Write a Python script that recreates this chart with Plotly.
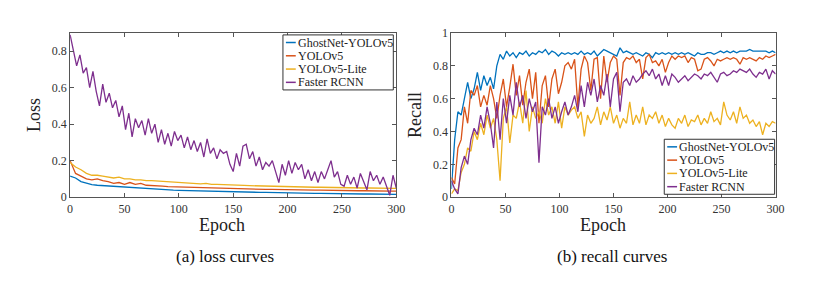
import plotly.graph_objects as go

# ---------------- data ----------------
names = ["GhostNet-YOLOv5", "YOLOv5", "YOLOv5-Lite", "Faster RCNN"]
colors = ["#0072BD", "#D95319", "#EDB120", "#7E2F8E"]

epochs3 = list(range(0, 301, 3))
epochs5 = list(range(0, 301, 5))

loss_ghost = [0.115, 0.105, 0.085, 0.075, 0.068, 0.065, 0.063, 0.060, 0.057, 0.055,
              0.053, 0.055, 0.050, 0.047, 0.045, 0.043, 0.042, 0.040, 0.040, 0.038,
              0.037, 0.036, 0.035, 0.034, 0.034, 0.033, 0.032, 0.031, 0.031, 0.030,
              0.029, 0.029, 0.028, 0.027, 0.027, 0.026, 0.026, 0.025, 0.025, 0.024,
              0.024, 0.023, 0.023, 0.022, 0.022, 0.021, 0.021, 0.020, 0.020, 0.019,
              0.019, 0.019, 0.018, 0.018, 0.017, 0.017, 0.017, 0.016, 0.016, 0.015, 0.015]
loss_yolo = [0.200, 0.130, 0.115, 0.100, 0.095, 0.100, 0.090, 0.085, 0.075, 0.080,
             0.070, 0.080, 0.070, 0.075, 0.065, 0.062, 0.060, 0.060, 0.058, 0.057,
             0.055, 0.055, 0.053, 0.052, 0.050, 0.052, 0.048, 0.048, 0.047, 0.046,
             0.046, 0.045, 0.044, 0.044, 0.043, 0.043, 0.042, 0.042, 0.041, 0.041,
             0.040, 0.040, 0.039, 0.039, 0.038, 0.038, 0.038, 0.037, 0.037, 0.036,
             0.036, 0.036, 0.035, 0.035, 0.035, 0.034, 0.034, 0.034, 0.033, 0.033, 0.033]
loss_lite = [0.190, 0.165, 0.150, 0.130, 0.120, 0.120, 0.115, 0.110, 0.105, 0.110,
             0.100, 0.100, 0.095, 0.095, 0.090, 0.090, 0.088, 0.085, 0.085, 0.080,
             0.080, 0.078, 0.075, 0.075, 0.073, 0.075, 0.070, 0.070, 0.068, 0.067,
             0.065, 0.065, 0.064, 0.063, 0.062, 0.060, 0.060, 0.059, 0.058, 0.058,
             0.057, 0.056, 0.056, 0.055, 0.055, 0.054, 0.054, 0.053, 0.053, 0.052,
             0.052, 0.051, 0.051, 0.050, 0.050, 0.050, 0.049, 0.049, 0.048, 0.048, 0.048]
loss_frcnn = [0.89, 0.80, 0.72, 0.78, 0.68, 0.71, 0.60, 0.69, 0.58, 0.50,
              0.62, 0.52, 0.57, 0.49, 0.53, 0.44, 0.50, 0.37, 0.46, 0.33,
              0.43, 0.38, 0.42, 0.34, 0.43, 0.35, 0.40, 0.30, 0.37, 0.29,
              0.35, 0.28, 0.36, 0.31, 0.34, 0.27, 0.33, 0.26, 0.31, 0.25,
              0.30, 0.22, 0.32, 0.24, 0.27, 0.21, 0.26, 0.24, 0.25, 0.18,
              0.14, 0.24, 0.17, 0.28, 0.29, 0.21, 0.25, 0.17, 0.22, 0.15,
              0.19, 0.17, 0.20, 0.14, 0.08, 0.18, 0.12, 0.20, 0.13, 0.19,
              0.15, 0.18, 0.10, 0.15, 0.09, 0.14, 0.08, 0.14, 0.10, 0.15,
              0.20, 0.11, 0.14, 0.07, 0.06, 0.12, 0.07, 0.11, 0.05, 0.13,
              0.09, 0.04, 0.14, 0.09, 0.12, 0.07, 0.11, 0.06, 0.01, 0.12, 0.05]

rec_ghost = [0.05, 0.35, 0.52, 0.50, 0.60, 0.70, 0.60, 0.66, 0.76, 0.65,
             0.74, 0.68, 0.73, 0.66, 0.80, 0.87, 0.84, 0.89, 0.86, 0.88,
             0.85, 0.88, 0.87, 0.89, 0.86, 0.88, 0.87, 0.89, 0.88, 0.90,
             0.87, 0.89, 0.88, 0.86, 0.88, 0.87, 0.88, 0.87, 0.88, 0.87,
             0.89, 0.87, 0.88, 0.87, 0.89, 0.86, 0.88, 0.90, 0.89, 0.88,
             0.87, 0.86, 0.91, 0.88, 0.89, 0.88, 0.87, 0.88, 0.87, 0.86,
             0.88, 0.87, 0.85, 0.88, 0.87, 0.88, 0.87, 0.88, 0.87, 0.88,
             0.87, 0.88, 0.87, 0.88, 0.87, 0.86, 0.88, 0.87, 0.87, 0.88,
             0.88, 0.87, 0.88, 0.89, 0.88, 0.89, 0.88, 0.89, 0.88, 0.89,
             0.89, 0.89, 0.90, 0.89, 0.89, 0.89, 0.89, 0.89, 0.88, 0.89, 0.88]
rec_yolo = [0.12, 0.08, 0.30, 0.35, 0.55, 0.45, 0.65, 0.62, 0.68, 0.55,
            0.62, 0.56, 0.68, 0.60, 0.48, 0.62, 0.72, 0.55, 0.67, 0.81,
            0.62, 0.74, 0.56, 0.70, 0.78, 0.60, 0.76, 0.45, 0.68, 0.74,
            0.55, 0.72, 0.78, 0.63, 0.70, 0.80, 0.82, 0.78, 0.84, 0.55,
            0.78, 0.86, 0.82, 0.65, 0.84, 0.85, 0.60, 0.86, 0.70, 0.82,
            0.86, 0.84, 0.62, 0.82, 0.85, 0.84, 0.86, 0.82, 0.84, 0.72,
            0.85, 0.87, 0.82, 0.83, 0.80, 0.84, 0.76, 0.82, 0.86, 0.84,
            0.86, 0.85, 0.86, 0.82, 0.85, 0.84, 0.77, 0.78, 0.84, 0.85,
            0.83, 0.80, 0.84, 0.83, 0.84, 0.85, 0.84, 0.85, 0.84, 0.81,
            0.85, 0.84, 0.85, 0.84, 0.83, 0.85, 0.84, 0.86, 0.85, 0.86, 0.87]
rec_lite = [0.02, 0.05, 0.04, 0.15, 0.20, 0.30, 0.28, 0.40, 0.35, 0.45,
            0.38, 0.50, 0.42, 0.48, 0.35, 0.10, 0.48, 0.55, 0.33, 0.50,
            0.48, 0.58, 0.45, 0.65, 0.40, 0.55, 0.48, 0.52, 0.45, 0.60,
            0.50, 0.55, 0.45, 0.58, 0.42, 0.55, 0.50, 0.53, 0.55, 0.48,
            0.52, 0.37, 0.50, 0.45, 0.48, 0.55, 0.44, 0.52, 0.47, 0.55,
            0.45, 0.50, 0.42, 0.48, 0.45, 0.58, 0.44, 0.50, 0.45, 0.55,
            0.44, 0.50, 0.48, 0.52, 0.45, 0.50, 0.43, 0.48, 0.44, 0.42,
            0.48, 0.45, 0.50, 0.43, 0.47, 0.46, 0.50, 0.44, 0.48, 0.45,
            0.52, 0.46, 0.48, 0.44, 0.58, 0.50, 0.47, 0.52, 0.45, 0.55,
            0.48, 0.50, 0.45, 0.47, 0.43, 0.46, 0.38, 0.45, 0.43, 0.46, 0.45]
rec_frcnn = [0.10, 0.05, 0.02, 0.18, 0.25, 0.20, 0.35, 0.42, 0.38, 0.50,
             0.42, 0.55, 0.45, 0.30, 0.58, 0.35, 0.60, 0.45, 0.62, 0.50,
             0.70, 0.55, 0.62, 0.48, 0.60, 0.52, 0.58, 0.21, 0.55, 0.50,
             0.60, 0.48, 0.55, 0.45, 0.52, 0.58, 0.50, 0.55, 0.62, 0.52,
             0.68, 0.55, 0.70, 0.62, 0.72, 0.58, 0.68, 0.62, 0.75, 0.55,
             0.72, 0.76, 0.52, 0.70, 0.72, 0.68, 0.74, 0.70, 0.72, 0.75,
             0.77, 0.74, 0.78, 0.72, 0.75, 0.68, 0.74, 0.68, 0.75, 0.73,
             0.70, 0.72, 0.74, 0.71, 0.73, 0.75, 0.74, 0.72, 0.75, 0.74,
             0.76, 0.73, 0.70, 0.75, 0.76, 0.74, 0.75, 0.77, 0.76, 0.78,
             0.77, 0.76, 0.78, 0.75, 0.73, 0.76, 0.75, 0.78, 0.72, 0.77, 0.75]

x_ticks = [0, 50, 100, 150, 200, 250, 300]
loss_ticks = [0, 0.2, 0.4, 0.6, 0.8]
loss_tick_text = ["0", "0.2", "0.4", "0.6", "0.8"]
rec_ticks = [0, 0.2, 0.4, 0.6, 0.8, 1]
rec_tick_text = ["0", "0.2", "0.4", "0.6", "0.8", "1"]

# ---------------- figure ----------------
FONT = "Liberation Serif, Times New Roman, serif"
# the page body has an 8px margin, so the figure is sized to fit inside the window
OFF = 8
W, H = 833 - 2 * OFF, 288 - 2 * OFF
fig = go.Figure()

loss_series = [(epochs5, loss_ghost), (epochs5, loss_yolo), (epochs5, loss_lite), (epochs3, loss_frcnn)]
for (xs, ys), n, c in zip(loss_series, names, colors):
    fig.add_trace(go.Scatter(x=xs, y=ys, mode="lines", name=n, line=dict(color=c, width=1.3),
                             xaxis="x", yaxis="y", showlegend=False))

rec_series = [rec_ghost, rec_yolo, rec_lite, rec_frcnn]
for ys, n, c in zip(rec_series, names, colors):
    fig.add_trace(go.Scatter(x=epochs3, y=ys, mode="lines", name=n, line=dict(color=c, width=1.3),
                             xaxis="x2", yaxis="y2", showlegend=False))


def px(v):
    return (v - OFF) / W


def py(v):
    return 1 - (v - OFF) / H


axis_common = dict(showline=True, linecolor="#555555", linewidth=1, mirror="allticks",
                   ticks="inside", ticklen=4, tickcolor="#555555", showgrid=False, zeroline=False,
                   tickfont=dict(family=FONT, size=12, color="#333333"))
title_font = dict(family=FONT, size=18, color="#222222")

# legend boxes (layout decoration, pixel positions of the legend frames)
shapes = []
annotations = []
for (lx, ly) in [(284, 29), (671, 139)]:
    lw, lh = 112, 58
    shapes.append(dict(type="rect", xref="paper", yref="paper",
                       x0=px(lx), x1=px(lx + lw), y0=py(ly + lh), y1=py(ly),
                       line=dict(color="#333333", width=1), fillcolor="white", layer="above"))
    for i, (n, c) in enumerate(zip(names, colors)):
        yy = ly + 8 + i * 14
        shapes.append(dict(type="line", xref="paper", yref="paper",
                           x0=px(lx + 3), x1=px(lx + 13), y0=py(yy), y1=py(yy),
                           line=dict(color=c, width=1.5), layer="above"))
        annotations.append(dict(text=n, x=px(lx + 13), y=py(yy), xref="paper", yref="paper",
                                xanchor="left", yanchor="middle", showarrow=False,
                                font=dict(family=FONT, size=12, color="#222222")))

annotations += [
    dict(text="Epoch", x=px(222), y=py(229), xref="paper", yref="paper",
         xanchor="center", yanchor="middle", showarrow=False, font=title_font),
    dict(text="Epoch", x=px(609), y=py(229), xref="paper", yref="paper",
         xanchor="center", yanchor="middle", showarrow=False, font=title_font),
    dict(text="(a) loss curves", x=px(225), y=py(263), xref="paper", yref="paper",
         xanchor="center", yanchor="middle",
         showarrow=False, font=dict(family=FONT, size=17, color="#111111")),
    dict(text="(b) recall curves", x=px(618), y=py(263), xref="paper", yref="paper",
         xanchor="center", yanchor="middle",
         showarrow=False, font=dict(family=FONT, size=17, color="#111111")),
]

fig.update_layout(
    width=W, height=H,
    margin=dict(l=0, r=0, t=0, b=0),
    paper_bgcolor="white", plot_bgcolor="white",
    font=dict(family=FONT, color="#222222"),
    showlegend=False,
    xaxis=dict(domain=[px(68), px(399)], range=[0, 300], tickvals=x_ticks, anchor="y",
               **axis_common),
    yaxis=dict(domain=[py(200), py(27)], range=[0, 0.9], tickvals=loss_ticks, ticktext=loss_tick_text,
               anchor="x", title=dict(text="Loss", font=title_font, standoff=6), **axis_common),
    xaxis2=dict(domain=[px(455), px(784)], range=[0, 300], tickvals=x_ticks, anchor="y2",
                **axis_common),
    yaxis2=dict(domain=[py(200), py(27)], range=[0, 1], tickvals=rec_ticks, ticktext=rec_tick_text,
                anchor="x2", title=dict(text="Recall", font=title_font, standoff=6), **axis_common),
    shapes=shapes,
    annotations=annotations,
)

fig.write_html("out.html")
